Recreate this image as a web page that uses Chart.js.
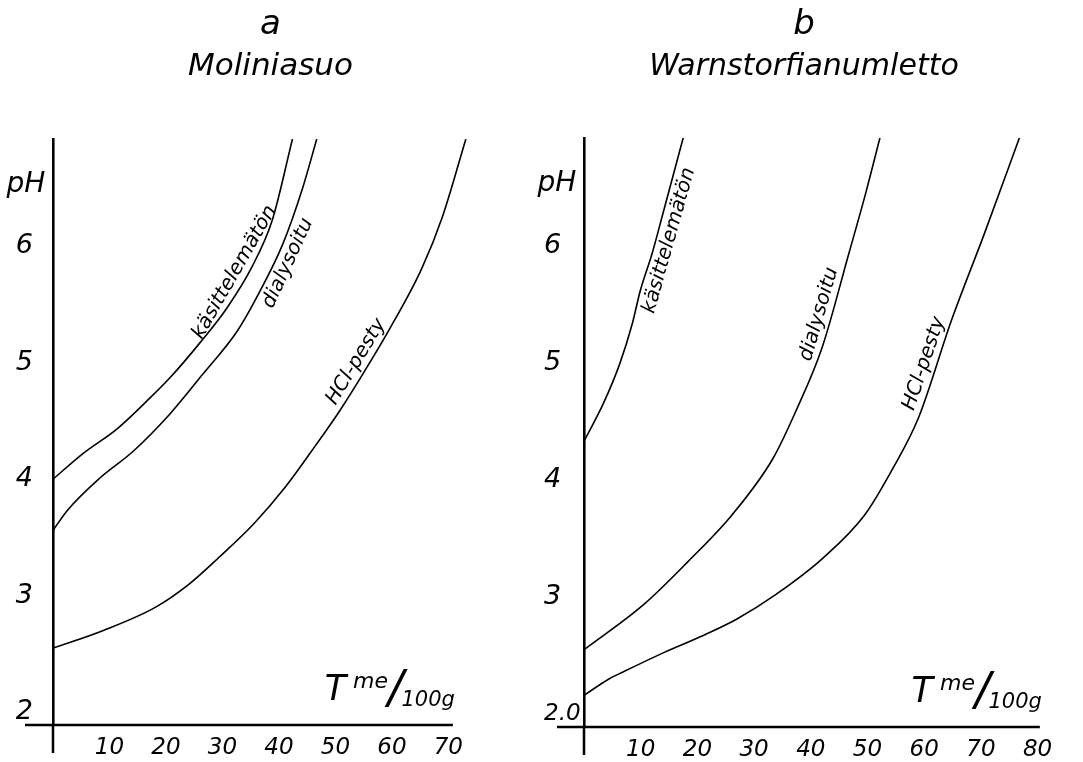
<!DOCTYPE html>
<html>
<head>
<meta charset="utf-8">
<script src="https://cdn.jsdelivr.net/npm/chart.js@4/dist/chart.umd.min.js"></script>
<style>
  body { margin: 0; background: #fff; }
  #wrap { position: relative; width: 1083px; height: 762px; overflow: hidden; }
  #chart-a { position: absolute; left: 0; top: 0; }
  #chart-b { position: absolute; left: 531px; top: 0; }
</style>
</head>
<body>
<div id="wrap">
  <canvas id="chart-a" width="541" height="762"></canvas>
  <canvas id="chart-b" width="533" height="762"></canvas>
</div>
<script>
const FONT = '"DejaVu Sans", sans-serif';

const seriesNames = ['käsittelemätön', 'dialysoitu', 'HCl-pesty'];
const phTicks = [2, 3, 4, 5, 6];
const xTicksA = [10, 20, 30, 40, 50, 60, 70];
const xTicksB = [10, 20, 30, 40, 50, 60, 70, 80];

// a  Moliniasuo
const aUntreatedT  = [0, 5.3, 11.3, 16.6, 20.7, 26.0, 30.8, 35.2, 38.8, 42.4];
const aUntreatedPH = [4.00, 4.22, 4.43, 4.67, 4.87, 5.17, 5.47, 5.82, 6.22, 6.92];
const aDialysedT   = [0, 2.5, 8.3, 14.2, 20.7, 26.5, 32.6, 36.6, 40.7, 44.2, 46.7];
const aDialysedPH  = [3.56, 3.73, 4.01, 4.24, 4.56, 4.90, 5.27, 5.61, 6.02, 6.50, 6.92];
const aHclT        = [0, 8.8, 18.1, 24.1, 29.4, 35.6, 41.1, 46.5, 50.8, 55.2, 59.6, 65.3, 69.0, 73.1];
const aHclPH       = [2.55, 2.70, 2.90, 3.10, 3.33, 3.62, 3.93, 4.29, 4.59, 4.93, 5.29, 5.81, 6.26, 6.92];

// b  Warnstorfianumletto
const bUntreatedT  = [0, 3.4, 6.3, 8.5, 9.9, 12.0, 13.9, 17.5];
const bUntreatedPH = [4.33, 4.65, 4.99, 5.33, 5.61, 5.93, 6.27, 6.92];
const bDialysedT   = [0, 10.4, 18.3, 26.1, 33.3, 37.4, 42.0, 46.7, 49.7, 52.2];
const bDialysedPH  = [2.55, 2.93, 3.30, 3.70, 4.18, 4.59, 5.13, 5.93, 6.45, 6.92];
const bHclT        = [0, 4.4, 6.9, 13.4, 20.5, 26.9, 33.8, 42.1, 49.5, 54.5, 59.0, 64.8, 70.6, 76.8];
const bHclPH       = [2.16, 2.30, 2.36, 2.51, 2.66, 2.81, 3.02, 3.33, 3.70, 4.10, 4.53, 5.36, 6.10, 6.92];

function toPoints(ts, ph) {
  return ts.map((t, i) => ({ x: t, y: ph[i] }));
}

function makeDatasets(list) {
  return list.map((pair, i) => ({
    label: seriesNames[i],
    data: toPoints(pair[0], pair[1]),
    borderColor: '#000',
    borderWidth: 1.6,
    pointRadius: 0,
    fill: false,
    cubicInterpolationMode: 'monotone'
  }));
}

// point on a drawn curve at a given pixel x
function curveAt(meta, px) {
  const pts = meta.data;
  for (let k = 0; k < pts.length - 1; k++) {
    const p = pts[k], q = pts[k + 1];
    if (px >= p.x && px <= q.x) {
      const t = (px - p.x) / (q.x - p.x);
      return { x: px, y: p.y + t * (q.y - p.y) };
    }
  }
  return null;
}

const overlayPlugin = {
  id: 'overlay',
  afterDatasetsDraw(chart, args, opts) {
    const { ctx, chartArea: ca, scales: { x, y } } = chart;
    ctx.save();
    ctx.strokeStyle = '#000';
    ctx.fillStyle = '#000';

    // horizontal axis (stops at axisEnd) and vertical stub below it
    ctx.lineWidth = 2.5;
    const x0 = x.getPixelForValue(0);
    ctx.beginPath();
    ctx.moveTo(x0, ca.bottom);
    ctx.lineTo(x0, ca.bottom + opts.axisDrop);
    ctx.moveTo(ca.left - opts.axisLeft, ca.bottom);
    ctx.lineTo(x.getPixelForValue(opts.axisEnd), ca.bottom);
    ctx.stroke();

    // pH
    ctx.font = 'italic 28px ' + FONT;
    ctx.textAlign = 'center';
    ctx.textBaseline = 'middle';
    ctx.fillText('pH', ca.left - opts.phOffset, y.getPixelForValue(6.53));

    // T me/100g
    const parts = [
      { t: 'T', size: 35, dy: -25, gap: 7 },
      { t: 'me', size: 22, dy: -37, gap: 0 },
      { t: '/', size: 46, dy: -22, gap: -2 },
      { t: '100g', size: 21, dy: -19, gap: 0 }
    ];
    ctx.textAlign = 'left';
    ctx.textBaseline = 'alphabetic';
    let total = 0;
    parts.forEach(p => {
      ctx.font = 'italic ' + p.size + 'px ' + FONT;
      p.w = ctx.measureText(p.t).width;
      total += p.w + p.gap;
    });
    let cx = x.getPixelForValue(opts.axisEnd) + 2 - total;
    parts.forEach(p => {
      ctx.font = 'italic ' + p.size + 'px ' + FONT;
      ctx.fillText(p.t, cx, ca.bottom + p.dy);
      cx += p.w + p.gap;
    });

    // curve names along the curves
    ctx.font = 'italic 20px ' + FONT;
    ctx.textAlign = 'center';
    opts.labels.forEach((lab, i) => {
      const meta = chart.getDatasetMeta(i);
      const px = x.getPixelForValue(lab.at);
      const c = curveAt(meta, px);
      const c1 = curveAt(meta, px - 10);
      const c2 = curveAt(meta, px + 10);
      if (!c || !c1 || !c2) return;
      const ang = Math.atan2(c2.y - c1.y, c2.x - c1.x);
      ctx.save();
      ctx.translate(c.x, c.y);
      ctx.rotate(ang);
      if (lab.side === 'left') {
        ctx.textBaseline = 'bottom';
        ctx.fillText(seriesNames[i], 0, -2);
      } else {
        ctx.textBaseline = 'top';
        ctx.fillText(seriesNames[i], 0, 3);
      }
      ctx.restore();
    });
    ctx.restore();
  }
};

function makeChart(id, cfg) {
  const tickFontX = { family: FONT, size: 23, style: 'italic', weight: 'normal' };
  const tickFontY = { family: FONT, size: 27, style: 'italic', weight: 'normal' };
  const tickFontLow = { family: FONT, size: cfg.twoSize, style: 'italic', weight: 'normal' };
  return new Chart(document.getElementById(id), {
    type: 'line',
    data: { datasets: makeDatasets(cfg.series) },
    plugins: [overlayPlugin],
    options: {
      responsive: false,
      animation: false,
      events: [],
      layout: { padding: { left: cfg.padLeft, right: 0, top: 0, bottom: 0 } },
      plugins: {
        legend: { display: false },
        tooltip: { enabled: false },
        title: {
          display: true, text: cfg.letter, color: '#000',
          font: { family: FONT, size: 34, style: 'italic', weight: 'normal' },
          padding: { top: 5, bottom: 0 }
        },
        subtitle: {
          display: true, text: cfg.site, color: '#000',
          font: { family: FONT, size: cfg.siteSize, style: 'italic', weight: 'normal' },
          padding: { top: 3, bottom: 53 }
        },
        overlay: {
          axisDrop: 28,
          axisLeft: cfg.axisLeft,
          axisEnd: cfg.axisEnd,
          phOffset: 27,
          labels: cfg.labels
        }
      },
      scales: {
        x: {
          type: 'linear',
          min: 0,
          max: cfg.xMax,
          grid: { display: false, drawTicks: false },
          border: { display: false },
          ticks: { color: '#000', font: tickFontX, padding: 9 },
          afterBuildTicks: s => { s.ticks = cfg.xTicks.map(v => ({ value: v })); },
          afterFit: s => { s.height = cfg.xAxisHeight; }
        },
        y: {
          type: 'linear',
          min: 1.89,
          max: 6.92,
          grid: { display: false, drawTicks: false },
          border: { display: true, color: '#000', width: 2.6 },
          ticks: {
            color: '#000', padding: cfg.yPad,
            font: c => (c.tick && c.tick.value === 2 ? tickFontLow : tickFontY),
            crossAlign: cfg.yAlign,
            callback: v => (v === 2 ? cfg.twoLabel : String(v))
          },
          afterBuildTicks: s => { s.ticks = phTicks.map(v => ({ value: v })); },
          afterFit: s => { s.width = cfg.yWidth; }
        }
      }
    }
  });
}

makeChart('chart-a', {
  letter: 'a',
  site: 'Moliniasuo',
  siteSize: 31,
  series: [[aUntreatedT, aUntreatedPH], [aDialysedT, aDialysedPH], [aHclT, aHclPH]],
  xTicks: xTicksA,
  xMax: 86.4,
  axisEnd: 70.8,
  xAxisHeight: 37,
  axisLeft: 28,
  padLeft: 0,
  yWidth: 53,
  yPad: 20,
  yAlign: 'near',
  twoLabel: '2',
  twoSize: 27,
  labels: [{ at: 34.0, side: 'left' }, { at: 39.5, side: 'right' }, { at: 55.5, side: 'left' }]
});

makeChart('chart-b', {
  letter: 'b',
  site: 'Warnstorfianumletto',
  siteSize: 30,
  series: [[bUntreatedT, bUntreatedPH], [bDialysedT, bDialysedPH], [bHclT, bHclPH]],
  xTicks: xTicksB,
  xMax: 84.66,
  axisEnd: 80.4,
  xAxisHeight: 35,
  axisLeft: 27,
  padLeft: 13,
  yWidth: 40,
  yPad: 0,
  yAlign: 'far',
  twoLabel: '2.0',
  twoSize: 23,
  labels: [{ at: 12.8, side: 'right' }, { at: 43.5, side: 'left' }, { at: 62.0, side: 'left' }]
});
</script>
</body>
</html>
